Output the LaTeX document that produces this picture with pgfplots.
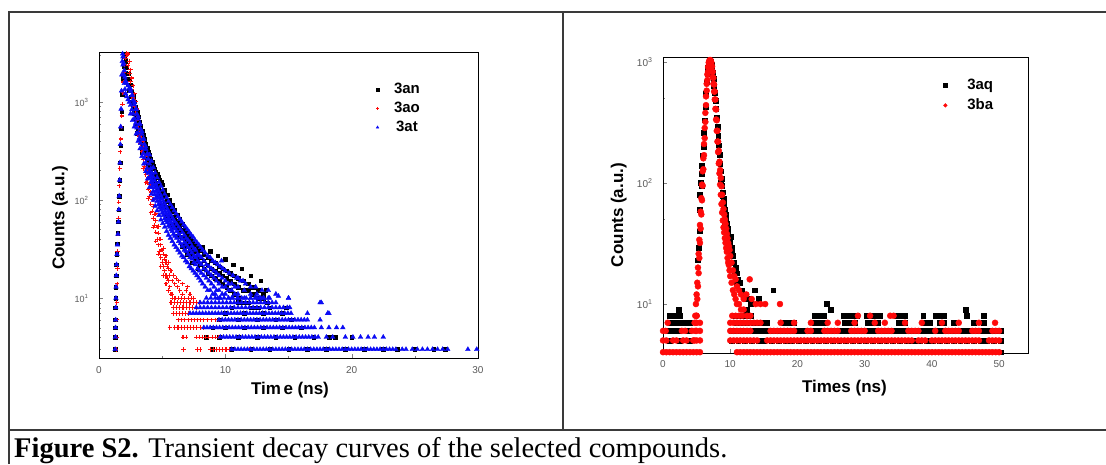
\documentclass[border=0pt]{standalone}
\usepackage{fontspec}
\setmainfont{Liberation Sans}
\newfontfamily\capfont{Liberation Serif}
\usepackage{pgfplots}
\pgfplotsset{compat=1.18}
\definecolor{framec}{HTML}{3A3A3A}
\definecolor{ticklab}{HTML}{5A5A5A}
\definecolor{pr}{HTML}{FF0A0A}
\definecolor{pb}{HTML}{0A0AF5}
\begin{document}
\begin{tikzpicture}[x=1pt,y=1pt]
\useasboundingbox (0,0) rectangle (1106,464);
\fill[white] (0,0) rectangle (1106,464);
\draw[framec, line width=1.4pt] (9,0) -- (9,452) -- (1106,452);
\draw[framec, line width=1.4pt] (563,452) -- (563,34);
\draw[framec, line width=1.4pt] (9,34) -- (1106,34);
\node[anchor=base west, inner sep=0pt] at (14,7) {\capfont\fontsize{28.5}{30}\selectfont\textbf{Figure S2.} Transient decay curves of the selected compounds.};

\begin{semilogyaxis}[at={(99pt,106pt)}, anchor=south west, scale only axis, width=379pt, height=306pt,
  xmin=0, xmax=30, ymin=2.45, ymax=3240, clip=false,
  tick align=inside, xtick pos=bottom, ytick pos=left,
  major tick length=4pt, minor tick length=2.2pt,
  axis line style={line width=0.8pt},
  tick label style={font=\fontsize{10}{11}\selectfont, text=ticklab},
  label style={font=\bfseries\fontsize{17}{19}\selectfont},
  legend image post style={mark size=1.5pt},
  legend style={draw=none, fill=none, inner sep=0pt, outer sep=0pt, column sep=15pt, row sep=5pt,
     font=\bfseries\fontsize{15}{15}\selectfont, nodes={inner sep=0pt, text height=11pt, text depth=3pt}, anchor=north west,
     at={(axis description cs:0.731,0.9007)}},
  xtick={0,10,20,30}, xticklabels={0,10,20,30}, minor xtick={5,15,25},
  ytick={10,100,1000}, yticklabels={10\textsuperscript{1},10\textsuperscript{2},10\textsuperscript{3}},
  minor ytick={3,4,5,6,7,8,9,20,30,40,50,60,70,80,90,200,300,400,500,600,700,800,900,2000,3000},
  yticklabel style={font=\fontsize{9}{10}\selectfont, xshift=-7pt},
  xticklabel style={yshift=-5pt},
  xlabel={Tim\kern2.5pt e (ns)}, ylabel={Counts (a.u.)},
  xlabel style={at={(axis description cs:0.504,-0.105)}, anchor=center},
  ylabel style={at={(axis description cs:-0.103,0.4575)}, anchor=center},
]
\addplot[only marks, black, mark=square*, mark size=1.8pt] coordinates {
(1.26,3)(1.27,4)(1.28,5)(1.29,6)(1.30,8)(1.31,10)(1.32,13)(1.34,17)(1.37,22)(1.40,28)(1.44,36)(1.48,46)(1.52,60)(1.56,80)(1.60,110)(1.64,160)(1.68,240)(1.72,360)(1.76,540)(1.80,800)(1.85,1200)(1.90,1750)(1.95,2400)(2.00,2900)(2.05,3050)
(2.0,2950)(2.0,2300)(2.1,2600)(2.1,2000)(2.2,2250)(2.2,1700)(2.3,1950)(2.3,1500)(2.4,1700)(2.4,1300)(2.5,1500)(2.5,1130)(2.6,1310)(2.6,990)(2.7,1150)(2.7,870)(2.8,1010)(2.8,770)(2.9,900)(2.9,680)(3.0,790)(3.0,600)(3.1,710)(3.1,535)(3.2,630)(3.2,480)(3.3,570)(3.3,430)(3.4,510)(3.4,390)(3.5,460)(3.5,350)(3.6,415)(3.6,315)(3.7,375)(3.7,285)(3.8,340)(3.8,255)(3.9,310)(3.9,235)(4.0,285)(4.0,215)(4.1,262)(4.1,198)(4.2,242)(4.2,183)(4.3,224)(4.3,170)(4.4,209)(4.4,158)(4.5,195)(4.5,148)(4.6,183)(4.6,138)(4.7,171)(4.7,130)(4.8,161)(4.8,122)(4.9,152)(4.9,115)
(5.0,143)(5.0,108)(5.0,124)(5.2,127)(5.2,96)(5.2,110)(5.4,113)(5.4,85)(5.4,98)(5.6,100)(5.6,76)(5.6,87)(5.8,89)(5.8,67)(5.8,77)(6.0,79)(6.0,59)(6.0,68)(6.2,71)(6.2,53)(6.2,61)(6.4,64)(6.4,48)(6.4,55)(6.6,57)(6.6,42)(6.6,49)(6.8,51)(6.8,38)(6.8,44)(7.0,46)(7.0,34)(7.0,40)(7.2,42)(7.2,31)(7.2,36)(7.4,38)(7.4,28)(7.4,33)(7.6,35)(7.6,25)(7.6,30)(7.8,33)(7.8,24)(7.8,28)(8.0,31)(8.0,22)(8.0,26)(8.3,28)(8.3,20)(8.3,24)(8.6,26)(8.6,18)(8.6,22)(8.9,24)(8.9,17)(8.9,20)(9.2,23)(9.2,16)(9.2,19)(9.5,21)(9.5,15)(9.5,18)(9.8,20)(9.8,14)(9.8,17)(10.1,19)(10.1,13)(10.1,16)(10.4,18)(10.4,12)(10.4,15)(10.7,17)(10.7,11)(10.7,14)(11.0,16)(11.0,10)(11.0,13)(11.4,15)(11.4,9)(11.4,12)(11.8,14)(11.8,9)(11.8,12)(12.2,13)(12.2,8)(12.2,11)(12.6,12)(12.6,8)(12.6,10)(13.0,11)(13.0,7)(13.0,10)
(3.0,480)(3.4,310)(3.8,205)(4.2,147)(4.6,111)(5.0,87)(5.4,69)(5.8,54)(6.2,43)(6.6,34)(7.0,28)(7.4,23)(7.8,20)(8.2,33)(8.8,30)(9.4,27)(10,25)(10.6,22)(11.3,20)(12,17)(12.8,15)(13.2,12)
(9.0,3)(10.5,3)(12,3)(13.5,3)(15,3)(16.5,3)(18,3)(19.5,3)(21,3)(22.5,3)(23.6,3)(25,3)(26.5,3)(27.4,3)
(8.5,4)(9.5,4)(11,4)(12.5,4)(14,4)(15.5,4)(17,4)(18.2,4)(18.7,4)(20,4)
(9,5)(10,5)(11.5,5)(13,5)(14.5,5)(16,5)
(9.5,6)(11,6)(12.5,6)(14,6)(15.2,6)
(10,7)(11.5,7)(13,7)(14.5,7)
(10.5,8)(12,8)(13.5,8)(14.8,8)
(11,9)(13.3,9)
};
\addlegendentry{3an}
\addplot[only marks, pr, mark=+, mark size=2.2pt, mark options={line width=1.1pt}] coordinates {
(1.36,3)(1.38,4)(1.40,6)(1.42,9)(1.44,14)(1.46,20)(1.48,30)(1.50,45)(1.53,65)(1.56,95)(1.60,140)(1.64,210)(1.68,310)(1.72,420)(1.76,560)(1.80,720)(1.85,950)(1.90,1250)(1.95,1600)(2.00,2000)(2.05,2400)(2.10,2800)(2.15,3050)(2.20,3150)(2.25,3050)
(2.3,3100)(2.3,2350)(2.4,2600)(2.4,1950)(2.5,2130)(2.5,1610)(2.6,1760)(2.6,1330)(2.7,1460)(2.7,1100)(2.8,1210)(2.8,910)(2.9,1010)(2.9,765)(3.0,850)(3.0,645)(3.1,715)(3.1,540)(3.2,600)(3.2,450)(3.3,495)(3.3,375)(3.4,415)(3.4,315)(3.5,345)(3.5,260)(3.6,290)(3.6,218)(3.7,240)(3.7,183)(3.8,200)(3.8,152)(3.9,170)(3.9,129)(4.0,144)(4.0,109)(4.1,121)(4.1,91)(4.2,101)(4.2,77)(4.3,86)(4.3,65)(4.4,72)(4.4,55)(4.5,62)(4.5,47)(4.6,53)(4.6,40)(4.7,46)(4.7,35)(4.8,40)(4.8,30)(4.9,35)(4.9,26)(5.0,31)(5.0,23)(5.1,28)(5.1,21)(5.2,25)(5.2,19)(5.3,23)(5.3,17)(5.4,21)(5.4,16)(5.5,20)(5.5,15)(5.6,17)(5.6,13)(5.8,15)(5.8,11)(6.0,14)(6.0,10)(6.2,13)(6.4,12)(6.6,11)(6.9,12)(7.2,11)
(3.5,400)(3.5,210)(3.7,280)(3.7,150)(3.9,200)(3.9,104)(4.1,142)(4.1,74)(4.3,101)(4.3,53)(4.5,73)(4.5,38)(4.7,54)(4.7,28)(4.9,40)(4.9,21)(5.1,32)(5.1,17)(5.3,27)(5.3,14)(5.5,23)(5.5,12)(5.7,19)(5.7,11)(5.9,17)(6.1,16)(6.3,15)(6.6,14)(7.0,13)
(5.8,10)(6.05,10)(6.3,10)(6.55,10)(6.8,10)(7.05,10)(7.3,10)(7.5,10)
(5.7,9)(5.95,9)(6.2,9)(6.45,9)(6.7,9)(6.95,9)(7.2,9)(7.45,9)(7.7,9)(7.95,9)
(5.9,8)(6.15,8)(6.4,8)(6.65,8)(6.9,8)(7.15,8)(7.4,8)(7.7,8)
(5.9,7)(6.1,7)(6.35,7)(6.6,7)(6.85,7)(7.1,7)
(6.3,6)(6.55,6)(6.8,6)(7.05,6)(7.3,6)(7.55,6)(7.8,6)(8.05,6)(8.3,6)(8.6,6)(8.9,6)(9.2,6)(9.45,6)
(5.6,5)(6.0,5)(6.25,5)(6.5,5)(6.75,5)(7.0,5)(7.25,5)(7.5,5)(7.75,5)(8.0,5)(8.25,5)
(6.65,4)(6.9,4)(7.7,4)(7.95,4)(8.2,4)(8.45,4)(8.7,4)(8.95,4)(9.2,4)(9.45,4)
(6.7,3)(7.8,3)(8.0,3)(8.8,3)(9.05,3)(9.3,3)(9.55,3)(9.8,3)(10.05,3)(10.3,3)(11.9,3)
};
\addlegendentry{3ao}
\addplot[only marks, pb, mark=triangle*, mark size=2.7pt] coordinates {
(1.28,3)(1.30,4)(1.31,5)(1.32,6)(1.33,8)(1.34,10)(1.35,13)(1.37,17)(1.39,22)(1.42,28)(1.46,35)(1.50,45)(1.54,60)(1.57,80)(1.60,110)(1.63,160)(1.66,240)(1.69,370)(1.72,560)(1.75,850)(1.78,1300)(1.81,1900)(1.84,2600)(1.87,3100)
(1.90,2900)(1.90,2400)(1.95,2500)(1.95,1900)(2.0,2100)(2.0,1550)(2.05,1800)(2.05,1350)(2.1,1650)(2.1,1220)(2.2,1550)(2.2,1140)(2.3,1470)(2.3,1060)(2.4,1390)(2.4,1000)(2.5,1290)(2.5,930)(2.6,1170)(2.6,840)(2.7,1050)(2.7,760)(2.8,945)(2.8,680)(2.9,845)(2.9,610)(3.0,755)(3.0,545)(3.1,670)(3.1,485)(3.2,595)(3.2,430)(3.3,530)(3.3,380)(3.4,470)(3.4,340)(3.5,420)(3.5,300)(3.6,370)(3.6,270)(3.7,330)(3.7,240)(3.8,295)(3.8,212)(3.9,262)(3.9,189)
(4.0,234)(4.0,168)(4.0,198)(4.1,210)(4.1,151)(4.1,178)(4.2,189)(4.2,136)(4.2,160)(4.3,172)(4.3,124)(4.3,146)(4.4,158)(4.4,114)(4.4,134)(4.5,145)(4.5,105)(4.5,123)(4.6,135)(4.6,97)(4.6,114)(4.7,125)(4.7,90)(4.7,106)(4.8,117)(4.8,84)(4.8,99)(4.9,110)(4.9,79)(4.9,93)(5.0,103)(5.0,74)(5.0,87)(5.1,97)(5.1,70)(5.1,82)(5.2,91)(5.2,65)(5.2,77)(5.3,86)(5.3,62)(5.3,73)(5.4,81)(5.4,59)(5.4,69)(5.5,77)(5.5,55)(5.5,65)(5.6,73)(5.6,53)(5.6,62)(5.7,70)(5.7,50)(5.7,59)(5.8,66)(5.8,48)(5.8,56)(5.9,63)(5.9,45)(5.9,53)(6.0,60)(6.0,43)(6.0,51)
(6.15,57)(6.15,41)(6.15,48)(6.3,53)(6.3,38)(6.3,45)(6.45,50)(6.45,36)(6.45,42)(6.6,47)(6.6,34)(6.6,40)(6.75,44)(6.75,31)(6.75,37)(6.9,41)(6.9,30)(6.9,35)(7.05,39)(7.05,28)(7.05,33)(7.2,37)(7.2,26)(7.2,31)(7.35,34)(7.35,25)(7.35,29)(7.5,32)(7.5,23)(7.5,27)(7.65,31)(7.65,22)(7.65,26)(7.8,28)(7.8,20)(7.8,24)(7.95,27)(7.95,19)(7.95,23)(8.1,26)(8.1,18)(8.1,22)(8.3,24)(8.3,17)(8.3,20)(8.5,22)(8.5,16)(8.5,19)(8.7,21)(8.7,15)(8.7,18)(8.9,20)(8.9,14)(8.9,17)(9.1,19)(9.1,13)(9.1,16)(9.3,18)(9.3,12)(9.3,15)(9.5,17)(9.5,12)(9.5,14)(9.75,16)(9.75,11)(9.75,13)(10,15)(10,11)(10,13)(10.25,14)(10.25,10)(10.25,12)(10.5,14)(10.5,10)(10.5,12)(10.75,13)(10.75,11)(11,13)(11,10)(11,11)(11.5,12)(11.5,10)(12,11)(12,10)(12.5,11)(12.5,10)(13,10)
(2.5,1360)(2.5,760)(2.65,1170)(2.65,650)(2.8,1000)(2.8,560)(2.95,850)(2.95,475)(3.1,710)(3.1,400)(3.25,600)(3.25,335)(3.4,500)(3.4,280)(3.55,420)(3.55,235)(3.7,350)(3.7,196)(3.85,295)(3.85,165)(4.0,290)(4.0,135)(4.15,250)(4.15,115)(4.3,215)(4.3,100)(4.45,190)(4.45,87)(4.6,170)(4.6,78)(4.75,152)(4.75,70)(4.9,139)(4.9,63)(5.05,127)(5.05,58)(5.2,115)(5.2,53)(5.35,106)(5.35,48)(5.5,97)(5.5,44)(5.65,90)(5.65,41)(5.8,84)(5.8,38)(5.95,78)(5.95,35)(6.1,73)(6.1,33)(6.25,68)(6.25,31)(6.4,64)(6.4,29)(6.55,60)(6.55,27)(6.7,56)(6.7,26)(6.85,53)(6.85,24)(7.0,50)(7.0,23)(7.15,47)(7.15,21)(7.3,44)(7.3,20)(7.45,42)(7.45,19)(7.6,39)(7.6,18)(7.75,37)(7.75,17)(7.9,35)(7.9,16)(8.05,33)(8.05,15)(8.2,31)(8.2,14)(8.4,29)(8.4,13)(8.6,27)(8.6,12)(8.8,26)(8.8,12)(9.0,24)(9.0,11)(9.2,23)(9.2,11)(9.4,22)(9.4,10)(9.6,21)(9.6,10)(9.8,20)(10,19)(10.3,18)(10.6,17)(10.9,16)(11.2,15)(11.6,14)(12,13)(12.4,13)(12.9,12)(13.4,12)(14,11)
(9.7,24)(11,16)(11.4,15)(14.2,10.5)(17.5,9)(18.1,7)(12.8,10)(13.5,10)(15,10)
(10.5,3)(10.75,3)(11,3)(11.25,3)(11.5,3)(11.75,3)(12,3)(12.25,3)(12.5,3)(12.75,3)(13,3)(13.25,3)(13.5,3)(13.75,3)(14,3)(14.25,3)(14.5,3)(14.75,3)(15,3)(15.25,3)(15.5,3)(15.75,3)(16,3)(16.25,3)(16.5,3)(16.75,3)(17,3)(17.25,3)(17.5,3)(17.75,3)(18,3)(18.25,3)(18.5,3)(18.75,3)(19,3)(19.25,3)(19.5,3)(19.75,3)(20,3)(20.25,3)(20.5,3)(20.75,3)(21,3)(21.25,3)(21.5,3)(21.75,3)(22,3)(22.25,3)(22.5,3)(22.75,3)(23,3)(23.25,3)(23.5,3)(24,3)(24.3,3)(24.8,3)(25.2,3)(25.6,3)(26,3)(26.4,3)(26.8,3)(27.2,3)(27.6,3)(29.2,3)(29.9,3)
(9.6,4)(9.85,4)(10.1,4)(10.35,4)(10.6,4)(10.85,4)(11.1,4)(11.35,4)(11.6,4)(11.85,4)(12.1,4)(12.35,4)(12.6,4)(12.85,4)(13.1,4)(13.35,4)(13.6,4)(13.85,4)(14.1,4)(14.35,4)(14.6,4)(14.85,4)(15.1,4)(15.35,4)(15.6,4)(15.85,4)(16.1,4)(16.35,4)(16.6,4)(16.85,4)(17.1,4)(17.35,4)(18,4)(18.5,4)(19.5,4)(20.1,4)(20.7,4)(21.3,4)(21.8,4)(22.5,4)
(8.3,5)(8.55,5)(8.8,5)(9.05,5)(9.3,5)(9.55,5)(9.8,5)(10.05,5)(10.3,5)(10.55,5)(10.8,5)(11.05,5)(11.3,5)(11.55,5)(11.8,5)(12.05,5)(12.3,5)(12.55,5)(12.8,5)(13.05,5)(13.3,5)(13.55,5)(13.8,5)(14.05,5)(14.3,5)(14.55,5)(14.8,5)(15.05,5)(15.3,5)(15.55,5)(15.8,5)(16.05,5)(16.3,5)(16.55,5)(16.8,5)(17.05,5)(17.6,5)(18.2,5)(18.8,5)(19.3,5)
(9.5,6)(9.75,6)(10,6)(10.25,6)(10.5,6)(10.75,6)(11,6)(11.25,6)(11.5,6)(11.75,6)(12,6)(12.25,6)(12.5,6)(12.75,6)(13,6)(13.25,6)(13.5,6)(13.75,6)(14,6)(14.25,6)(14.5,6)(14.75,6)(15,6)(15.25,6)(15.5,6)(15.75,6)(16,6)(16.25,6)(16.5,6)(17.5,6)
(7.2,7)(7.45,7)(7.7,7)(7.95,7)(8.2,7)(8.45,7)(8.7,7)(8.95,7)(9.2,7)(9.45,7)(9.7,7)(9.95,7)(10.2,7)(10.45,7)(10.7,7)(10.95,7)(11.2,7)(11.45,7)(11.7,7)(11.95,7)(12.2,7)(12.45,7)(12.7,7)(12.95,7)(13.2,7)(13.45,7)(13.7,7)(13.95,7)(14.2,7)(14.45,7)(14.7,7)(14.95,7)(15.2,7)(16.5,7)(18.2,7)
(7.7,8)(8.0,8)(8.3,8)(8.6,8)(8.9,8)(9.2,8)(9.5,8)(9.8,8)(10.1,8)(10.4,8)(10.7,8)(11.0,8)(11.3,8)(11.6,8)(11.9,8)(12.2,8)(12.5,8)(12.8,8)(13.1,8)(13.4,8)(13.7,8)(14.0,8)(14.3,8)(14.6,8)(14.9,8)(15.1,8)
(8.0,9)(8.3,9)(8.6,9)(8.9,9)(9.2,9)(9.5,9)(9.8,9)(10.1,9)(10.4,9)(10.7,9)(11.0,9)(11.3,9)(11.6,9)(11.9,9)(12.2,9)(12.5,9)(12.8,9)(13.1,9)(13.4,9)(13.7,9)(14.0,9)(17.6,9)
(8.5,10)(8.85,10)(9.2,10)(9.55,10)(9.9,10)(10.25,10)(10.6,10)(10.95,10)(11.3,10)(11.65,10)(12.0,10)(12.35,10)(12.7,10)(13.05,10)(13.4,10)(15.0,10)
};
\addlegendentry{3at}
\end{semilogyaxis}

\begin{semilogyaxis}[at={(663pt,111pt)}, anchor=south west, scale only axis, width=365pt, height=296pt,
  xmin=0, xmax=54.3, ymin=3.94, ymax=1100,
  tick align=inside, xtick pos=bottom, ytick pos=left,
  major tick length=4pt, minor tick length=2.2pt,
  axis line style={line width=0.8pt},
  tick label style={font=\fontsize{10}{11}\selectfont, text=ticklab},
  label style={font=\bfseries\fontsize{17}{19}\selectfont},
  legend image post style={mark size=1.9pt},
  legend style={draw=none, fill=none, inner sep=0pt, outer sep=0pt, column sep=20pt, row sep=6pt,
     font=\bfseries\fontsize{15}{15}\selectfont, nodes={inner sep=0pt, text height=11pt, text depth=3pt}, anchor=north west,
     at={(axis description cs:0.7685,0.9277)}},
  xtick={0,10,20,30,40,50}, xticklabels={0,10,20,30,40,50},
  ytick={10,100,1000}, yticklabels={10\textsuperscript{1},10\textsuperscript{2},10\textsuperscript{3}},
  minor ytick={5,50,500},
  yticklabel style={xshift=-7pt},
  xticklabel style={yshift=-4pt},
  xlabel={Times (ns)}, ylabel={Counts (a.u.)},
  xlabel style={at={(axis description cs:0.497,-0.118)}, anchor=center},
  ylabel style={at={(axis description cs:-0.121,0.466)}, anchor=center},
]
\addplot[only marks, black, mark=square*, mark size=2.4pt] coordinates {
(5.2,23)(5.3,29)(5.4,40)(5.45,60)(5.5,80)(5.6,100)(5.7,95)(5.7,120)(5.8,140)(5.9,170)(6.0,200)(6.1,260)(6.2,330)(6.3,430)(6.4,550)(6.5,680)(6.6,800)(6.7,900)(6.8,970)(6.9,1000)(7.0,1010)(7.1,1000)(7.2,960)(7.3,900)(7.4,820)(7.5,730)(7.6,640)(7.7,560)(7.8,480)(7.9,410)(8.0,345)(8.1,290)(8.2,245)(8.3,205)(8.4,172)(8.5,145)(8.6,125)(8.7,108)(8.8,95)(8.9,84)(9.0,75)(9.1,67)(9.2,60)(9.3,55)(9.4,50)(9.5,46)(9.6,42)(9.7,39)(9.8,36)(9.9,34)(10.0,31)(10.1,36)(10.2,29)(10.3,27)(10.4,25)(10.6,22)(10.8,20)(11.0,18)(11.2,16)(11.4,15)(11.7,13)(12.0,12)(12.3,11)(12.6,11)(13.0,10)(13.7,13)(16.4,13)(12.2,12)(14.2,11)
(8.6,100)(8.8,78)(9.0,60)(9.2,48)(9.4,40)(9.6,34)(9.8,29)(10.0,26)(10.3,22)(10.6,19)(11.0,15)
(1.0,5)(2.5,5)(4.0,5)(10.2,5)(11.2,5)(12.2,5)(13.2,5)(14.2,5)(14.5,5)(15,5)(16.2,5)(17.2,5)(18.2,5)(19.2,5)(20.2,5)(21.2,5)(22.2,5)(23.2,5)(24.2,5)(25.2,5)(26.2,5)(27.2,5)(28.2,5)(29.2,5)(30.2,5)(31.2,5)(32.2,5)(33.2,5)(34.2,5)(35.2,5)(36.2,5)(37.2,5)(37.5,5)(38.2,5)(39.2,5)(39.5,5)(40.2,5)(41.2,5)(42.2,5)(43.2,5)(44.2,5)(45.2,5)(46.2,5)(47.2,5)(47.5,5)(48,5)(48.2,5)(49.2,5)(50.2,5)(50.3,4)
(0.9,6)(1.4,6)(1.9,6)(2.4,6)(3.8,6)(10.2,6)(10.7,6)(11.2,6)(11.7,6)(12.2,6)(12.7,6)(13.2,6)(13.7,6)(14.2,6)(14.7,6)(15.2,6)(15.7,6)(16.2,6)(16.7,6)(17.2,6)(17.7,6)(18.2,6)(18.7,6)(19.2,6)(19.7,6)(20.2,6)(20.7,6)(21.2,6)(21.7,6)(22.2,6)(22.7,6)(23.2,6)(23.7,6)(24.2,6)(24.7,6)(25.2,6)(25.7,6)(26.2,6)(26.7,6)(27.2,6)(27.7,6)(28.2,6)(28.7,6)(29.2,6)(29.7,6)(30.2,6)(30.7,6)(31.2,6)(31.7,6)(32.2,6)(32.7,6)(33.2,6)(33.7,6)(34.2,6)(34.7,6)(35.2,6)(35.7,6)(36.2,6)(36.7,6)(37.2,6)(37.7,6)(38.2,6)(38.7,6)(39.2,6)(39.7,6)(40.2,6)(40.7,6)(41.2,6)(41.7,6)(42.2,6)(42.7,6)(43.2,6)(43.7,6)(44.2,6)(44.7,6)(45.2,6)(45.7,6)(46.2,6)(46.7,6)(47.2,6)(47.7,6)(48.2,6)(48.7,6)(49.2,6)(49.7,6)(50.2,6)
(1.2,7)(1.7,7)(2.2,7)(2.7,7)(3.2,7)(4.0,7)(11,7)(11.5,7)(12,7)(12.5,7)(13.5,7)(14,7)(14.5,7)(15,7)(15.5,7)(18,7)(18.5,7)(19,7)(19.5,7)(22.5,7)(23,7)(23.5,7)(24,7)(27,7)(27.5,7)(28,7)(28.5,7)(30.5,7)(31,7)(31.5,7)(32,7)(35,7)(35.5,7)(36,7)(38.7,7)(39.2,7)(39.7,7)(41.2,7)(41.7,7)(43.2,7)(46.2,7)(47.7,7)
(1.0,8)(1.5,8)(2.0,8)(2.5,8)(10.8,8)(11.5,8)(12.2,8)(13,8)(22.6,8)(23.2,8)(23.9,8)(26.8,8)(27.4,8)(28.1,8)(28.8,8)(30.3,8)(31,8)(31.7,8)(32.3,8)(34.8,8)(35.4,8)(36,8)(38.7,8)(40.5,8)(41.1,8)(41.7,8)(45.2,8)(47.7,8)
(2.3,9)(25.0,9)(45.0,9)(12.5,9)(24.4,10)
};
\addlegendentry{3aq}
\addplot[only marks, pr, mark=*, mark size=3pt] coordinates {
(4.7,7)(4.7,5)(4.8,8)(4.8,6)(4.9,10)(4.9,7)(5.0,12)(5.0,8)(5.1,15)(5.1,11)(5.2,20)(5.2,14)(5.3,26)(5.3,18)(5.4,34)(5.4,24)(5.5,45)(5.5,32)(5.6,58)(5.6,42)(5.7,75)(5.7,55)(5.8,97)(5.8,72)(5.9,125)(5.9,95)(6.0,160)(6.0,130)(6.1,210)(6.1,170)(6.2,285)(6.2,235)(6.3,380)(6.3,320)(6.4,520)(6.4,440)(6.5,660)(6.5,580)(6.6,790)(6.6,710)(6.7,910)(6.7,830)(6.8,990)(6.8,910)(6.9,1030)(6.9,950)(7.0,1040)(7.0,960)(7.1,1030)(7.1,950)(7.2,990)(7.2,910)(7.3,920)(7.3,840)(7.4,830)(7.4,750)(7.5,740)(7.5,660)(7.6,650)(7.6,570)(7.7,570)(7.7,490)(7.8,490)(7.8,410)(7.9,405)(7.9,335)(8.0,330)(8.0,270)(8.1,270)(8.1,220)(8.2,220)(8.2,180)(8.3,185)(8.3,145)(8.4,150)(8.4,120)(8.5,128)(8.5,97)(8.6,110)(8.6,80)(8.7,94)(8.7,67)(8.8,80)(8.8,57)(8.9,69)(8.9,49)(9.0,61)(9.0,43)(9.1,55)(9.1,39)(9.2,50)(9.2,35)(9.3,46)(9.3,32)(9.4,42)(9.4,29)(9.5,38)(9.5,27)(9.6,35)(9.6,24)(9.7,32)(9.7,22)(9.8,30)(9.8,21)(9.9,28)(9.9,19)(10.0,25)(10.0,17)(10.2,22)(10.2,15)(10.4,19)(10.4,13)(10.6,17)(10.6,12)(10.8,16)(10.8,11)(11.0,14)(11.0,10)(11.3,13)(11.3,10)(11.6,12)(11.6,9)(12.0,11)(12.0,9)(12.4,12)(12.9,16)(13.2,11)(15.2,10)(17.4,10)(13.8,10)(14.5,10)
(0,4)(0.5,4)(1,4)(1.5,4)(2,4)(2.5,4)(3,4)(3.5,4)(4,4)(4.5,4)(5,4)(5.5,4)
(11,4)(11.5,4)(12,4)(12.5,4)(13,4)(13.5,4)(14,4)(14.5,4)(15,4)(15.5,4)(16,4)(16.5,4)(17,4)(17.5,4)(18,4)(18.5,4)(19,4)(19.5,4)(20,4)(20.5,4)(21,4)(21.5,4)(22,4)(22.5,4)(23,4)(23.5,4)(24,4)(24.5,4)(25,4)(25.5,4)(26,4)(26.5,4)(27,4)(27.5,4)(28,4)(28.5,4)(29,4)(29.5,4)(30,4)(30.5,4)(31,4)(31.5,4)(32,4)(32.5,4)(33,4)(33.5,4)(34,4)(34.5,4)(35,4)(35.5,4)(36,4)(36.5,4)(37,4)(37.5,4)(38,4)(38.5,4)(39,4)(39.5,4)(40,4)(40.5,4)(41,4)(41.5,4)(42,4)(42.5,4)(43,4)(43.5,4)(44,4)(44.5,4)(45,4)(45.5,4)(46,4)(46.5,4)(47,4)(47.5,4)(48,4)(48.5,4)(49,4)(49.5,4)(50,4)
(0,5)(0.5,5)(1.5,5)(2,5)(3,5)(3.5,5)(4.5,5)(5,5)(5.5,5)
(10,5)(10.5,5)(11,5)(11.5,5)(12,5)(12.5,5)(13,5)(13.5,5)(14,5)(15.5,5)(16,5)(16.5,5)(17,5)(17.5,5)(18,5)(18.5,5)(19,5)(19.5,5)(20,5)(20.5,5)(21,5)(21.5,5)(22,5)(22.5,5)(23,5)(23.5,5)(24,5)(24.5,5)(25,5)(25.5,5)(26,5)(26.5,5)(27,5)(27.5,5)(28,5)(28.5,5)(29,5)(29.5,5)(30,5)(30.5,5)(31,5)(31.5,5)(32,5)(32.5,5)(33,5)(33.5,5)(34,5)(34.5,5)(35,5)(35.5,5)(36,5)(36.5,5)(37,5)(38,5)(38.5,5)(39,5)(40,5)(40.5,5)(41,5)(41.5,5)(42,5)(42.5,5)(43,5)(43.5,5)(44,5)(44.5,5)(45,5)(45.5,5)(46,5)(46.5,5)(47,5)(48.5,5)(49,5)(49.5,5)(50,5)
(0,6)(0.4,6)(2.8,6)(3.3,6)(4.3,6)(5.0,6)(5.5,6)
(10,6)(10.5,6)(11,6)(11.5,6)(12,6)(12.5,6)(13,6)(16,6)(16.5,6)(17,6)(17.5,6)(18,6)(18.5,6)(19,6)(19.5,6)(21.5,6)(22,6)(24,6)(24.5,6)(25,6)(25.5,6)(26,6)(28,6)(28.5,6)(29,6)(29.5,6)(30,6)(32,6)(32.5,6)(33,6)(33.5,6)(34,6)(36.5,6)(37,6)(37.5,6)(38,6)(40.5,6)(42,6)(42.5,6)(43,6)(43.5,6)(44,6)(46,6)(46.5,6)(47,6)(49,6)(49.5,6)(50,6)
(0.7,7)(5.0,7)(5.5,7)(10,7)(10.5,7)(11,7)(11.5,7)(12,7)(12.5,7)(13,7)(13.5,7)(14,7)(14.5,7)(17.5,7)(19.5,7)(22,7)(24.5,7)(26,7)(28.5,7)(31.5,7)(33,7)(36,7)(38.5,7)(41.5,7)(44,7)(47,7)(49.4,7)
(5.0,8)(10.3,8)(10.8,8)(11.3,8)(11.8,8)(12.5,8)(13.0,8)(29,8)(30.8,8)(33.8,8)(34.3,8)
};
\addlegendentry{3ba}
\end{semilogyaxis}
\end{tikzpicture}
\end{document}
